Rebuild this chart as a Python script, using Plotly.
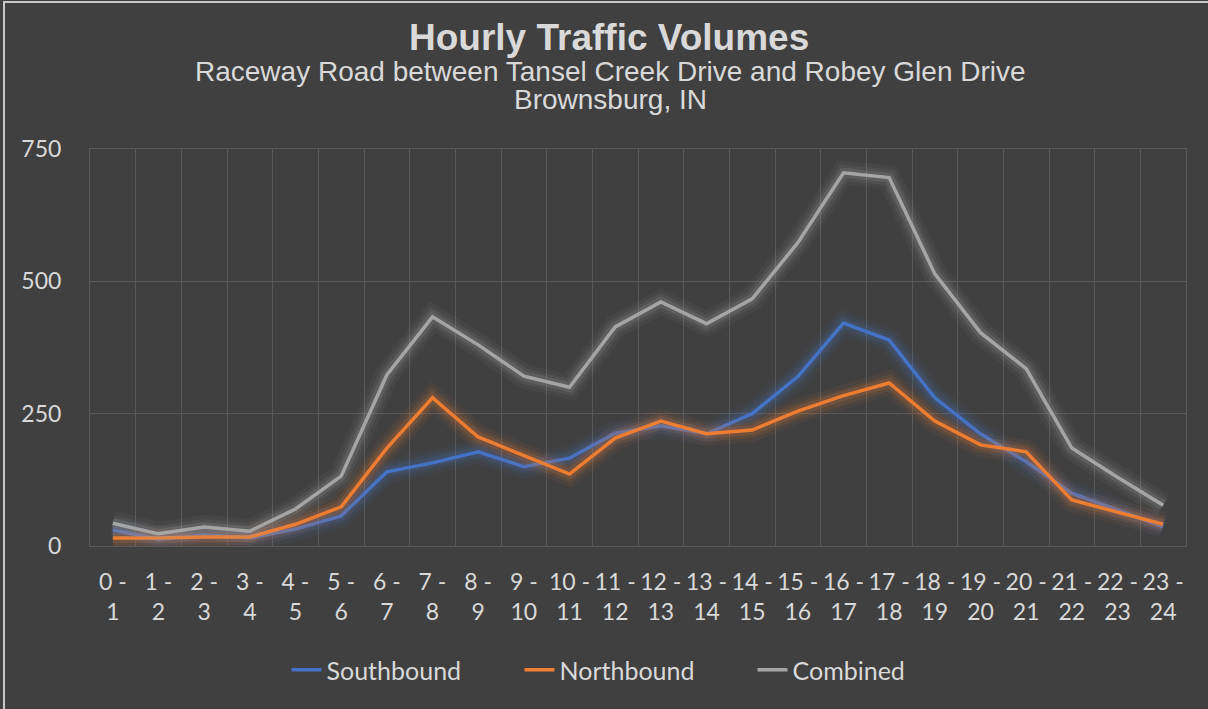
import plotly.graph_objects as go

hours = [f"{h} -<br>{h + 1}" for h in range(24)]
southbound = [30, 13, 21, 15, 32, 57, 140, 157, 178, 150, 166, 213, 227, 212, 250, 320, 421, 389, 280, 212, 159, 100, 68, 36]
northbound = [15, 15, 17, 17, 41, 74, 185, 280, 206, 171, 136, 204, 236, 212, 219, 255, 284, 308, 236, 191, 178, 87, 64, 41]
combined = [43, 23, 36, 28, 70, 132, 323, 433, 380, 321, 300, 414, 461, 420, 467, 573, 705, 696, 514, 403, 335, 185, 130, 77]
y_ticks = [0, 250, 500, 750]

series = [
    ("Southbound", southbound, "#4472C4", "rgba(68,114,196,"),
    ("Northbound", northbound, "#ED7D31", "rgba(237,125,49,"),
    ("Combined", combined, "#A5A5A5", "rgba(165,165,165,"),
]

W, H = 1208, 709
L, R, T, B = 90, 22, 149, 163
pw, ph = W - L - R, H - T - B


def px_x(x):
    return (x - L) / pw


def px_y(y):
    return (H - B - y) / ph


fig = go.Figure()
for name, vals, col, rgba in series:
    for w, a in [(24, 0.06), (16, 0.10), (10, 0.16)]:
        fig.add_trace(go.Scatter(x=hours, y=vals, mode="lines", showlegend=False,
                                 hoverinfo="skip",
                                 line=dict(color=rgba + f"{a})", width=w, shape="linear")))
    fig.add_trace(go.Scatter(x=hours, y=vals, mode="lines", name=name,
                             line=dict(color=col, width=3.5)))

grid = "#595959"
fig.update_layout(
    width=W, height=H, autosize=False,
    margin=dict(l=L, r=R, t=T, b=B, pad=0, autoexpand=False),
    paper_bgcolor="#404040", plot_bgcolor="#404040",
    font=dict(family="Lato", color="#D9D9D9", size=22),
    showlegend=True,
    legend=dict(orientation="h", xref="paper", x=px_x(636), xanchor="center",
                y=px_y(670), yanchor="middle", font=dict(size=25, color="#D9D9D9"),
                entrywidth=188, entrywidthmode="pixels",
                bgcolor="rgba(0,0,0,0)", traceorder="normal"),
    xaxis=dict(type="category", range=[-0.5, 23.5], tickson="boundaries",
               showgrid=True, gridcolor=grid, gridwidth=1, automargin=False,
               showline=True, mirror=True, linecolor=grid, linewidth=1,
               ticks="", tickangle=0, ticklabelstandoff=15,
               tickfont=dict(size=23, color="#D9D9D9"), fixedrange=True),
    yaxis=dict(range=[0, 750], tickvals=y_ticks, ticktext=[str(v) for v in y_ticks],
               showgrid=True, gridcolor=grid, gridwidth=1, zeroline=False, automargin=False,
               showline=True, mirror=True, linecolor=grid, linewidth=1,
               ticks="", ticklabelstandoff=23, tickfont=dict(size=23, color="#D9D9D9")),
    annotations=[
        dict(text="<b>Hourly Traffic Volumes</b>", xref="paper", yref="paper",
             x=px_x(609), y=px_y(37), xanchor="center", yanchor="middle", showarrow=False,
             font=dict(family="Liberation Sans", size=37, color="#D9D9D9")),
        dict(text="Raceway Road between Tansel Creek Drive and Robey Glen Drive", xref="paper", yref="paper",
             x=px_x(610), y=px_y(72), xanchor="center", yanchor="middle", showarrow=False,
             font=dict(family="Liberation Sans", size=28, color="#D9D9D9")),
        dict(text="Brownsburg, IN", xref="paper", yref="paper",
             x=px_x(610), y=px_y(100), xanchor="center", yanchor="middle", showarrow=False,
             font=dict(family="Liberation Sans", size=28, color="#D9D9D9")),
    ],
    shapes=[
        dict(type="rect", xref="paper", yref="paper", layer="above",
             x0=px_x(4), x1=px_x(1215), y0=px_y(716), y1=px_y(2),
             line=dict(color="#C8C8C8", width=2), fillcolor="rgba(0,0,0,0)"),
    ],
)

fig.write_html("out.html", config={"displayModeBar": False},
               post_script="document.body.style.margin='0';document.body.style.overflow='hidden';")
